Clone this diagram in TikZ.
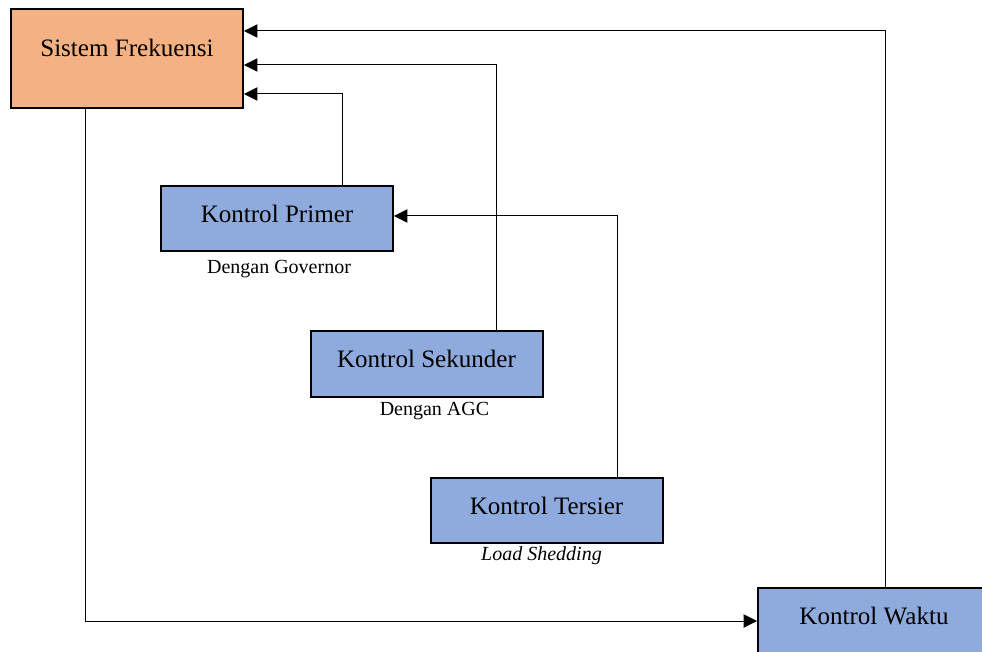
\documentclass[tikz,border=0pt]{standalone}
\usepackage{fontspec}
\setmainfont{Liberation Serif}
\usetikzlibrary{arrows.meta}
\definecolor{sforange}{HTML}{F4B183}
\definecolor{ctrlblue}{HTML}{8FAADC}
\tikzset{
  ctrl/.style={draw, line width=1.5pt, fill=ctrlblue, minimum width=174pt, minimum height=48.75pt,
    inner sep=0pt, font=\fontsize{18.8}{22}\selectfont, text height=13pt, text depth=7pt},
  note/.style={font=\fontsize{15}{18}\selectfont, inner sep=0pt},
  link/.style={line width=0.75pt, -{Triangle[length=10pt,width=10pt]}},
}
\begin{document}
\begin{tikzpicture}[x=0.75pt,y=-0.75pt]
\useasboundingbox (0,0) rectangle (982,652);
% boxes
\node[ctrl, fill=sforange, minimum height=74.25pt, text depth=15.6pt] (sf) at (127,58.5){Sistem Frekuensi};
\node[ctrl] (kp) at (277,218.5){Kontrol Primer};
\node[ctrl] (ks) at (426.5,364){Kontrol Sekunder};
\node[ctrl] (kt) at (546.5,510){Kontrol Tersier};
\node[ctrl, minimum height=57.75pt, text depth=16.4pt] (kw) at (874,626.5){Kontrol Waktu};
% notes
\node[note] (kpnote) at (279,269){Dengan Governor};
\node[note] (ksnote) at (434.5,411){Dengan AGC};
\node[note, font=\fontsize{15}{18}\selectfont\itshape] (ktnote) at (541.5,556){Load Shedding};
% bends
\coordinate (w) at (885,31);
\coordinate (s) at (496,65);
\coordinate (p) at (342,94);
\coordinate (t) at (617,216);
\coordinate (f) at (85,621);
\draw[link] (kw.north -| w) |- (sf.east |- w);
\draw[link] (ks.north -| s) |- (sf.east |- s);
\draw[link] (kp.north -| p) |- (sf.east |- p);
\draw[link] (kt.north -| t) |- (kp.east |- t);
\draw[link] (sf.south -| f) |- (kw.west |- f);

\end{tikzpicture}
\end{document}
